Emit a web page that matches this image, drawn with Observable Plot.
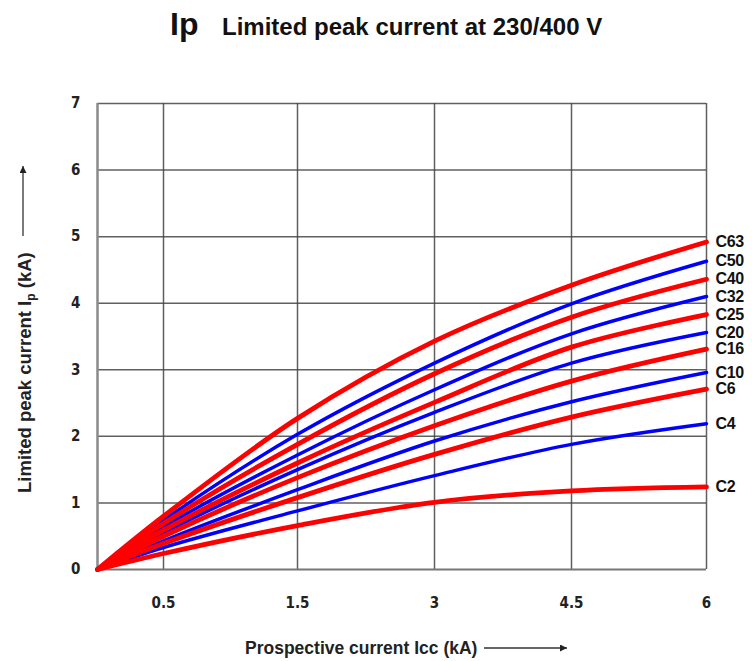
<!DOCTYPE html>
<html><head><meta charset="utf-8">
<script src="https://cdn.jsdelivr.net/npm/d3@7"></script>
<script src="https://cdn.jsdelivr.net/npm/@observablehq/plot@0.6"></script>
<style>
body{margin:0;background:#fff;}
#wrap{position:relative;width:752px;height:661px;overflow:hidden;font-family:"Liberation Sans",Arial,Helvetica,sans-serif;}
#title{position:absolute;left:0;top:0;width:752px;height:62px;}
#title span{position:absolute;white-space:nowrap;font-weight:bold;line-height:1;color:#111;}
#t1{left:170px;top:8px;font-size:32px;}
#t2{left:222px;top:15px;font-size:24px;}
#chart{position:absolute;left:0;top:62px;}
#chart g[aria-label="x-axis tick label"] text, #chart g[aria-label="y-axis tick label"] text{font-stretch:condensed;}
#chart g[aria-label="text"] text{letter-spacing:-0.4px;}
</style></head><body>
<div id="wrap">
<div id="title"><span id="t1">Ip</span><span id="t2">Limited peak current at 230/400 V</span></div>
<div id="chart"></div>
</div>
<script>
// ---- data ----
const xValues = [0, 0.5, 1.5, 3, 4.5, 6];
const xTicks = [0.5, 1.5, 3, 4.5, 6];
const yTicks = [0, 1, 2, 3, 4, 5, 6, 7];
const seriesNames = ["C63", "C50", "C40", "C32", "C25", "C20", "C16", "C10", "C6", "C4", "C2"];
const C63 = [0, 0.80, 2.27, 3.43, 4.27, 4.92];
const C50 = [0, 0.74, 2.03, 3.10, 3.99, 4.63];
const C40 = [0, 0.69, 1.88, 2.94, 3.79, 4.36];
const C32 = [0, 0.64, 1.72, 2.70, 3.54, 4.10];
const C25 = [0, 0.59, 1.60, 2.51, 3.34, 3.83];
const C20 = [0, 0.55, 1.50, 2.36, 3.10, 3.56];
const C16 = [0, 0.50, 1.38, 2.16, 2.83, 3.31];
const C10 = [0, 0.43, 1.20, 1.93, 2.52, 2.96];
const C6  = [0, 0.39, 1.08, 1.73, 2.29, 2.71];
const C4  = [0, 0.33, 0.88, 1.41, 1.88, 2.19];
const C2  = [0, 0.24, 0.66, 1.01, 1.18, 1.24];
const seriesValues = [C63, C50, C40, C32, C25, C20, C16, C10, C6, C4, C2];
const redSeries = ["C63", "C40", "C25", "C16", "C6", "C2"];

// ---- build table ----
const rows = [];
seriesNames.forEach((name, i) => {
  xValues.forEach((x, j) => rows.push({name, x, y: seriesValues[i][j]}));
});
const ends = seriesNames.map((name, i) => ({name, x: xValues[xValues.length - 1], y: seriesValues[i][xValues.length - 1]}));
const isRed = d => redSeries.includes(d.name);

// ---- layout ----
const W = 752, H = 599, ml = 97, mr = 46, mt = 41, mb = 92;
const frac = [0, 66, 200, 337, 474, 609].map(d => d / 609);
const xRange = frac.map(f => ml + f * (W - ml - mr));
const tickFont = '"DejaVu Sans",sans-serif';

const chart = Plot.plot({
  width: W, height: H,
  marginLeft: ml, marginRight: mr, marginTop: mt, marginBottom: mb,
  x: {type: "linear", domain: xValues, range: xRange, label: null},
  y: {domain: [0, 7], label: null},
  color: {domain: seriesNames, range: seriesNames.map(n => redSeries.includes(n) ? "#ff0000" : "#0000ff")},
  style: {background: "white"},
  marks: [
    Plot.gridX(xTicks, {stroke: "#444", strokeOpacity: 0.85, strokeWidth: 1.5}),
    Plot.gridY(yTicks.filter(d => d > 0), {stroke: "#444", strokeOpacity: 0.85, strokeWidth: 1.5}),
    Plot.ruleX([0], {stroke: "#8a8a8a", strokeWidth: 2.5}),
    Plot.ruleY([0], {stroke: "#777", strokeWidth: 2}),
    Plot.axisX(xTicks, {tickSize: 0, tickPadding: 28, fontSize: 15, fontWeight: "bold", fontFamily: tickFont, fill: "#222", tickFormat: d => String(d), label: null}),
    Plot.axisY(yTicks, {tickSize: 0, tickPadding: 17, fontSize: 15, fontWeight: "bold", fontFamily: tickFont, fill: "#222", tickFormat: d => String(d), label: null}),
    Plot.line(rows.filter(d => !isRed(d)), {x: "x", y: "y", z: "name", stroke: "name", strokeWidth: 3.5, curve: "catmull-rom"}),
    Plot.line(rows.filter(isRed), {x: "x", y: "y", z: "name", stroke: "name", strokeWidth: 4.8, curve: "catmull-rom"}),
    Plot.text(ends, {x: "x", y: "y", text: "name", dx: 9, textAnchor: "start", fontSize: 16, fontWeight: "bold", fill: "#111", fontFamily: '"Liberation Sans",Arial,sans-serif'})
  ]
});
document.getElementById("chart").appendChild(chart);

// ---- axis titles with arrows ----
const svg = d3.select(chart);
const defs = svg.append("defs");
defs.append("marker").attr("id", "arr").attr("viewBox", "0 0 10 10").attr("refX", 10).attr("refY", 5)
  .attr("markerWidth", 9).attr("markerHeight", 7).attr("markerUnits", "userSpaceOnUse").attr("orient", "auto")
  .append("path").attr("d", "M0,0L10,5L0,10Z").attr("fill", "#222");

const yl = svg.append("text").attr("transform", "translate(31,431) rotate(-90)").attr("text-anchor", "start")
  .attr("font-family", '"Liberation Sans",Arial,sans-serif').attr("font-size", 18.5).attr("font-weight", "bold").attr("fill", "#222");
yl.append("tspan").text("Limited peak current I");
yl.append("tspan").attr("font-size", 12).attr("dy", 4).text("p");
yl.append("tspan").attr("dy", -4).text(" (kA)");
svg.append("line").attr("x1", 23).attr("y1", 174).attr("x2", 23).attr("y2", 104)
  .attr("stroke", "#333").attr("stroke-width", 1.3).attr("marker-end", "url(#arr)");

svg.append("text").attr("x", 245).attr("y", 592).attr("text-anchor", "start")
  .attr("font-family", '"Liberation Sans",Arial,sans-serif').attr("font-size", 17.5).attr("font-weight", "bold").attr("fill", "#222")
  .text("Prospective current Icc (kA)");
svg.append("line").attr("x1", 484).attr("y1", 586).attr("x2", 567).attr("y2", 586)
  .attr("stroke", "#333").attr("stroke-width", 1.3).attr("marker-end", "url(#arr)");
</script>
</body></html>
